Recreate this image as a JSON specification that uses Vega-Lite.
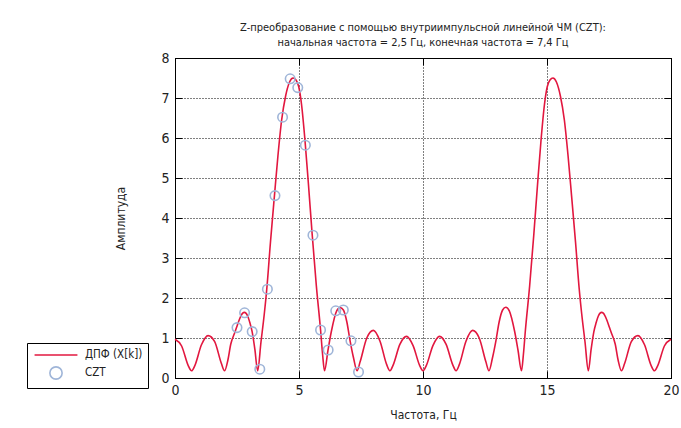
{
  "$schema": "https://vega.github.io/schema/vega-lite/v6.json",
  "width": 496,
  "height": 320,
  "autosize": {"type": "none"},
  "padding": {"left": 175, "top": 58, "right": 10, "bottom": 50},
  "background": "white",
  "config": {
    "font": "DejaVu Sans Condensed, Liberation Sans, sans-serif",
    "view": {"stroke": "black", "strokeWidth": 1},
    "axis": {
      "domainColor": "black",
      "domainWidth": 1,
      "tickColor": "black",
      "tickWidth": 1,
      "tickSize": -7,
      "gridColor": "black",
      "gridDash": [1, 2],
      "gridOpacity": 1,
      "gridWidth": 1,
      "labelFont": "DejaVu Sans Condensed, Liberation Sans, sans-serif",
      "labelFontSize": 14,
      "labelColor": "#222222",
      "labelFlush": false,
      "titleFont": "DejaVu Sans Condensed, Liberation Sans, sans-serif",
      "titleFontSize": 12,
      "titleFontWeight": "normal",
      "titleColor": "#222222"
    }
  },
  "title": {
    "text": [
      "Z-преобразование с помощью внутриимпульсной линейной ЧМ (CZT):",
      "начальная частота = 2,5 Гц, конечная частота = 7,4 Гц"
    ],
    "font": "DejaVu Sans Condensed, Liberation Sans, sans-serif",
    "fontSize": 11,
    "fontWeight": "normal",
    "color": "#222222",
    "lineHeight": 15,
    "anchor": "middle",
    "offset": 3
  },
  "layer": [
    {
      "data": {
        "values": [
          {"f": 0, "a": 0.97}, {"f": 0.267, "a": 0.8}, {"f": 0.533, "a": 0.31}, {"f": 0.667, "a": 0.18},
          {"f": 0.8, "a": 0.31}, {"f": 1.067, "a": 0.83}, {"f": 1.333, "a": 1.06}, {"f": 1.6, "a": 0.91},
          {"f": 1.867, "a": 0.37}, {"f": 2.0, "a": 0.18}, {"f": 2.133, "a": 0.45}, {"f": 2.25, "a": 0.85},
          {"f": 2.4, "a": 1.12}, {"f": 2.48, "a": 1.26}, {"f": 2.6, "a": 1.47}, {"f": 2.73, "a": 1.62},
          {"f": 2.8, "a": 1.64}, {"f": 2.93, "a": 1.55}, {"f": 3.02, "a": 1.38}, {"f": 3.11, "a": 1.16},
          {"f": 3.22, "a": 0.72}, {"f": 3.333, "a": 0.18}, {"f": 3.467, "a": 0.9}, {"f": 3.6, "a": 1.6},
          {"f": 3.7, "a": 2.22}, {"f": 3.85, "a": 3.4}, {"f": 4.01, "a": 4.56}, {"f": 4.15, "a": 5.55},
          {"f": 4.3, "a": 6.45}, {"f": 4.46, "a": 7.05}, {"f": 4.62, "a": 7.4}, {"f": 4.76, "a": 7.5},
          {"f": 4.88, "a": 7.45}, {"f": 4.99, "a": 7.28}, {"f": 5.1, "a": 6.85}, {"f": 5.24, "a": 5.95},
          {"f": 5.38, "a": 4.85}, {"f": 5.53, "a": 3.6}, {"f": 5.7, "a": 2.3}, {"f": 5.87, "a": 1.2},
          {"f": 5.95, "a": 0.6}, {"f": 6.03, "a": 0.18}, {"f": 6.17, "a": 0.7}, {"f": 6.3, "a": 1.15},
          {"f": 6.52, "a": 1.68}, {"f": 6.66, "a": 1.76}, {"f": 6.79, "a": 1.7}, {"f": 6.93, "a": 1.4},
          {"f": 7.06, "a": 0.93}, {"f": 7.2, "a": 0.5}, {"f": 7.34, "a": 0.18}, {"f": 7.467, "a": 0.41},
          {"f": 7.733, "a": 1.0}, {"f": 8.0, "a": 1.19}, {"f": 8.267, "a": 0.92}, {"f": 8.533, "a": 0.34},
          {"f": 8.667, "a": 0.18}, {"f": 8.8, "a": 0.33}, {"f": 9.067, "a": 0.84}, {"f": 9.333, "a": 1.04},
          {"f": 9.6, "a": 0.81}, {"f": 9.867, "a": 0.31}, {"f": 10.0, "a": 0.18}, {"f": 10.133, "a": 0.31},
          {"f": 10.4, "a": 0.81}, {"f": 10.667, "a": 1.04}, {"f": 10.933, "a": 0.84}, {"f": 11.2, "a": 0.33},
          {"f": 11.333, "a": 0.18}, {"f": 11.467, "a": 0.34}, {"f": 11.733, "a": 0.92}, {"f": 12.0, "a": 1.19},
          {"f": 12.267, "a": 1.0}, {"f": 12.533, "a": 0.41}, {"f": 12.66, "a": 0.18}, {"f": 12.8, "a": 0.5},
          {"f": 12.94, "a": 0.93}, {"f": 13.07, "a": 1.4}, {"f": 13.21, "a": 1.7}, {"f": 13.34, "a": 1.77},
          {"f": 13.48, "a": 1.68}, {"f": 13.7, "a": 1.15}, {"f": 13.83, "a": 0.7}, {"f": 13.97, "a": 0.18},
          {"f": 14.05, "a": 0.6}, {"f": 14.13, "a": 1.2}, {"f": 14.3, "a": 2.3}, {"f": 14.47, "a": 3.6},
          {"f": 14.62, "a": 4.85}, {"f": 14.76, "a": 5.95}, {"f": 14.9, "a": 6.85}, {"f": 15.01, "a": 7.28},
          {"f": 15.12, "a": 7.45}, {"f": 15.24, "a": 7.5}, {"f": 15.38, "a": 7.4}, {"f": 15.54, "a": 7.05},
          {"f": 15.7, "a": 6.45}, {"f": 15.85, "a": 5.55}, {"f": 15.99, "a": 4.56}, {"f": 16.15, "a": 3.4},
          {"f": 16.3, "a": 2.22}, {"f": 16.4, "a": 1.6}, {"f": 16.533, "a": 0.9}, {"f": 16.667, "a": 0.18},
          {"f": 16.78, "a": 0.72}, {"f": 16.89, "a": 1.16}, {"f": 16.98, "a": 1.38}, {"f": 17.07, "a": 1.55},
          {"f": 17.2, "a": 1.64}, {"f": 17.27, "a": 1.62}, {"f": 17.4, "a": 1.47}, {"f": 17.52, "a": 1.26},
          {"f": 17.6, "a": 1.12}, {"f": 17.75, "a": 0.85}, {"f": 17.867, "a": 0.45}, {"f": 18.0, "a": 0.18},
          {"f": 18.133, "a": 0.37}, {"f": 18.4, "a": 0.91}, {"f": 18.667, "a": 1.06}, {"f": 18.933, "a": 0.83},
          {"f": 19.2, "a": 0.31}, {"f": 19.333, "a": 0.18}, {"f": 19.467, "a": 0.31}, {"f": 19.733, "a": 0.8},
          {"f": 20, "a": 0.97}
        ]
      },
      "mark": {"type": "line", "interpolate": "monotone", "strokeWidth": 1.6},
      "encoding": {
        "x": {
          "field": "f",
          "type": "quantitative",
          "scale": {"domain": [0, 20], "nice": false, "zero": false},
          "axis": {"orient": "bottom", "title": "Частота, Гц", "values": [0, 5, 10, 15, 20], "grid": true, "labelPadding": 12, "titlePadding": 12}
        },
        "y": {
          "field": "a",
          "type": "quantitative",
          "scale": {"domain": [0, 8], "nice": false},
          "axis": {"orient": "left", "title": "Амплитуда", "values": [0, 1, 2, 3, 4, 5, 6, 7, 8], "grid": true, "labelPadding": 13, "titlePadding": 33}
        },
        "color": {
          "datum": "ДПФ (X[k])",
          "type": "nominal",
          "scale": {"domain": ["ДПФ (X[k])", "CZT"], "range": ["#e2173f", "#9fb5d8"]},
          "legend": {
            "orient": "none",
            "legendX": -148,
            "legendY": 285,
            "title": null,
            "strokeColor": "black",
            "fillColor": "white",
            "padding": 5,
            "rowPadding": 2,
            "symbolSize": 150,
            "symbolOffset": 17,
            "labelOffset": 22,
            "labelFont": "DejaVu Sans Condensed, Liberation Sans, sans-serif",
            "labelFontSize": 11.5,
            "labelColor": "#222222",
            "symbolStrokeWidth": 1.6,
            "encode": {
              "symbols": {
                "update": {
                  "shape": {"signal": "datum.value === 'CZT' ? 'circle' : 'M-3.5,0L3.5,0'"},
                  "size": {"value": 150},
                  "fill": {"value": "transparent"},
                  "strokeWidth": {"value": 1.6}
                }
              }
            }
          }
        }
      }
    },
    {
      "data": {
        "values": [
          {"f": 2.5, "a": 1.26}, {"f": 2.806, "a": 1.63}, {"f": 3.1125, "a": 1.16}, {"f": 3.419, "a": 0.22},
          {"f": 3.725, "a": 2.22}, {"f": 4.031, "a": 4.56}, {"f": 4.3375, "a": 6.52}, {"f": 4.644, "a": 7.48},
          {"f": 4.95, "a": 7.26}, {"f": 5.256, "a": 5.82}, {"f": 5.5625, "a": 3.57}, {"f": 5.869, "a": 1.2},
          {"f": 6.175, "a": 0.7}, {"f": 6.481, "a": 1.68}, {"f": 6.7875, "a": 1.7}, {"f": 7.094, "a": 0.93},
          {"f": 7.4, "a": 0.15}
        ]
      },
      "mark": {"type": "point", "shape": "circle", "filled": false, "size": 90, "strokeWidth": 1.6, "opacity": 1},
      "encoding": {
        "x": {
          "field": "f",
          "type": "quantitative",
          "axis": {"orient": "top", "labels": false, "title": null, "values": [0, 5, 10, 15, 20], "grid": false}
        },
        "y": {
          "field": "a",
          "type": "quantitative",
          "axis": {"orient": "right", "labels": false, "title": null, "values": [0, 1, 2, 3, 4, 5, 6, 7, 8], "grid": false}
        },
        "color": {"datum": "CZT", "type": "nominal"}
      }
    }
  ],
  "resolve": {"axis": {"x": "independent", "y": "independent"}}
}
